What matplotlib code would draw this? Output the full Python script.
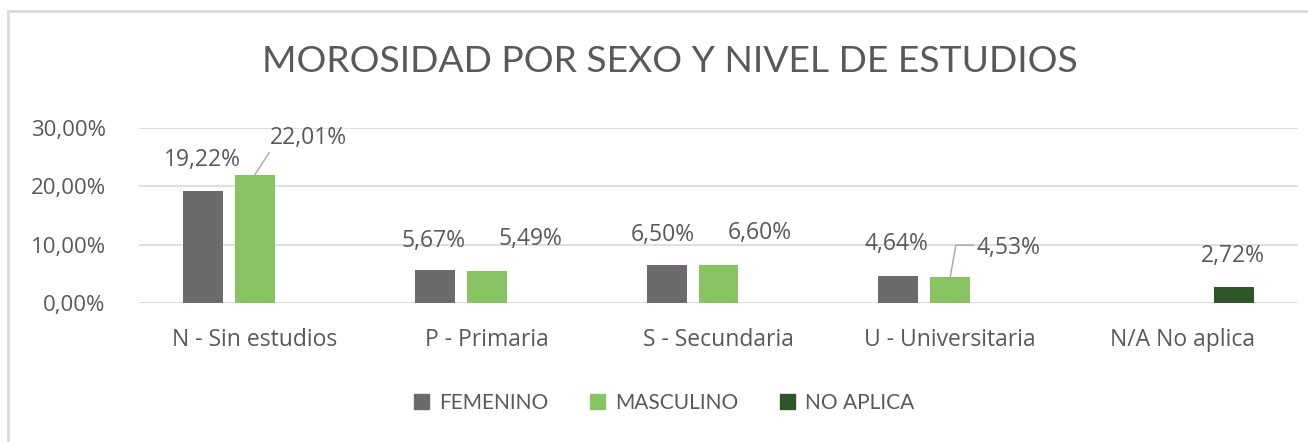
import matplotlib.pyplot as plt
from matplotlib.lines import Line2D
from matplotlib.patches import Patch
import numpy as np

plt.rcParams['font.family'] = ['Lato', 'DejaVu Sans']

categorias = ['N - Sin estudios', 'P - Primaria', 'S - Secundaria',
              'U - Universitaria', 'N/A No aplica']
femenino = [0.1922, 0.0567, 0.0650, 0.0464, np.nan]
masculino = [0.2201, 0.0549, 0.0660, 0.0453, np.nan]
no_aplica = [np.nan, np.nan, np.nan, np.nan, 0.0272]
yticks = [0.0, 0.10, 0.20, 0.30]
ytick_labels = ['0,00%', '10,00%', '20,00%', '30,00%']

c_fem = '#6D6A6D'
c_mas = '#88C462'
c_na = '#30552A'
txt = '#595959'
lbl_font = ['Open Sans', 'DejaVu Sans']

fig = plt.figure(figsize=(13.08, 4.42), dpi=100)
ax = fig.add_axes([139 / 1308, 1 - 303 / 442, 1159 / 1308, 175 / 442])

x = np.arange(len(categorias))
w = 0.172
off = 0.224
ax.bar(x - off, femenino, w, color=c_fem, label='FEMENINO', zorder=3)
ax.bar(x, masculino, w, color=c_mas, label='MASCULINO', zorder=3)
ax.bar(x + off, no_aplica, w, color=c_na, label='NO APLICA', zorder=3)

ax.set_xlim(-0.5, len(categorias) - 0.5)
ax.set_ylim(0, 0.30)
ax.set_yticks(yticks)
ax.set_yticklabels(ytick_labels, family=lbl_font, fontsize=16)
ax.set_xticks(x)
ax.set_xticklabels(categorias, family=lbl_font, fontsize=16.5)
ax.tick_params(length=0, colors=txt)
ax.tick_params(axis='x', pad=18)
ax.tick_params(axis='y', pad=24)
ax.grid(axis='y', color='#D9D9D9', linewidth=1.2, zorder=0)
for s in ax.spines.values():
    s.set_visible(False)


def fmt(v):
    return f'{v * 100:.2f}%'.replace('.', ',')


# label offsets in pixels from bar top
fem_off = [(-1, 31), (-1, 29), (-4, 30), (-2, 32), None]
mas_off = [(54, 37), (44, 32), (41, 32), (58, 29), None]
lab_kw = dict(textcoords='offset pixels', ha='center', va='center',
              fontsize=16.5, color=txt, family=lbl_font)

for i in range(len(categorias)):
    if not np.isnan(femenino[i]):
        ax.annotate(fmt(femenino[i]), (x[i] - off, femenino[i]),
                    xytext=fem_off[i], **lab_kw)
    if not np.isnan(masculino[i]):
        kw = {}
        if i == 0:
            kw['arrowprops'] = dict(arrowstyle='-', color='#A6A6A6', lw=1,
                                    shrinkA=0, shrinkB=0, relpos=(0.03, 0.1))
        elif i == 3:
            kw['arrowprops'] = dict(arrowstyle='-', color='#A6A6A6', lw=1,
                                    shrinkA=0, shrinkB=0, relpos=(0, 0.6),
                                    connectionstyle='angle,angleA=0,angleB=80')
        ax.annotate(fmt(masculino[i]), (x[i], masculino[i]),
                    xytext=mas_off[i], **lab_kw, **kw)
    if not np.isnan(no_aplica[i]):
        ax.annotate(fmt(no_aplica[i]), (x[i] + off, no_aplica[i]),
                    xytext=(-1, 31), **lab_kw)

fig.text(0.5125, 1 - 62 / 442, 'MOROSIDAD POR SEXO Y NIVEL DE ESTUDIOS',
         ha='center', va='center', fontsize=26.8, color=txt)

handles = [Patch(color=c_fem), Patch(color=c_mas), Patch(color=c_na)]
fig.legend(handles, ['FEMENINO', 'MASCULINO', 'NO APLICA'],
           loc='center', bbox_to_anchor=(0.508, 1 - 403 / 442), ncol=3,
           frameon=False, fontsize=15, labelcolor=txt, handlelength=0.7,
           handleheight=0.7, handletextpad=0.5, columnspacing=2.0)

# chart border (top and left only visible)
fig.add_artist(Line2D([8 / 1308, 8 / 1308], [0, 1 - 11 / 442],
                      transform=fig.transFigure, color='#D9D9D9', lw=2))
fig.add_artist(Line2D([8 / 1308, 1], [1 - 11 / 442, 1 - 11 / 442],
                      transform=fig.transFigure, color='#D9D9D9', lw=2))

fig.savefig('out.png', dpi=100)
